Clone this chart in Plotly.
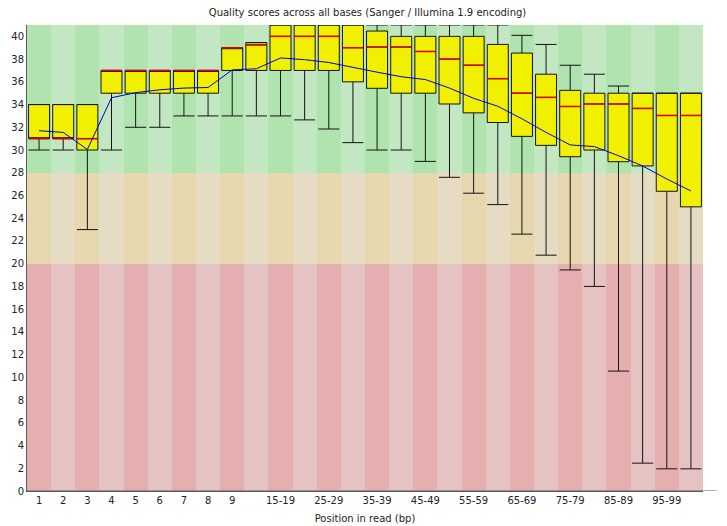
import plotly.graph_objects as go

categories = ["1", "2", "3", "4", "5", "6", "7", "8", "9",
              "10-14", "15-19", "20-24", "25-29", "30-34", "35-39", "40-44",
              "45-49", "50-54", "55-59", "60-64", "65-69", "70-74", "75-79",
              "80-84", "85-89", "90-94", "95-99", "100-101"]
tick_labels = ["1", "2", "3", "4", "5", "6", "7", "8", "9",
               "", "15-19", "", "25-29", "", "35-39", "", "45-49", "", "55-59",
               "", "65-69", "", "75-79", "", "85-89", "", "95-99", ""]

lower_whisker = [30, 30, 23, 30, 32, 32, 33, 33, 33, 33, 33, 32.65, 31.85, 30.65,
                 30, 30, 29, 27.6, 26.2, 25.2, 22.6, 20.75, 19.45, 18.0, 10.55,
                 2.45, 1.95, 1.95]
q1 = [31, 31, 30, 35, 35, 35, 35, 35, 37, 37, 37, 37, 37, 36,
      35.43, 35, 35, 34.05, 33.27, 32.42, 31.2, 30.41, 29.41, 30, 28.97,
      28.6, 26.37, 25.0]
median = [31, 31, 31, 37, 37, 37, 37, 37, 39, 39.25, 40, 40, 40, 39,
          39.06, 39.06, 38.67, 38.0, 37.46, 36.28, 35.0, 34.63, 33.83, 34.05,
          34.05, 33.66, 33.04, 33.04]
q3 = [34, 34, 34, 37, 37, 37, 37, 37, 39, 39.45, 41, 41, 41, 41,
      40.47, 40, 40, 40, 40, 39.29, 38.53, 36.67, 35.25, 35, 35, 35, 35, 35]
upper_whisker = [34, 34, 34, 37, 37, 37, 37, 37, 39, 39.45, 41, 41, 41, 41,
                 41, 41, 41, 41, 41, 41, 40.09, 39.29, 37.46, 36.67, 35.63,
                 35, 35, 35]
mean = [31.7, 31.55, 30.05, 34.6, 35.05, 35.3, 35.45, 35.5, 37.05, 37.15,
        38.1, 37.95, 37.7, 37.25, 36.85, 36.45, 36.2, 35.45, 34.55, 33.85,
        32.75, 31.55, 30.45, 30.3, 29.5, 28.6, 27.45, 26.4]

zones = [(0, 20, "rgb(230,175,175)", "rgb(230,195,195)"),
         (20, 28, "rgb(230,215,175)", "rgb(230,220,195)"),
         (28, 41, "rgb(175,228,175)", "rgb(195,230,195)")]

n = len(categories)
idx = list(range(n))

fig = go.Figure()

for lo, hi, dark, light in zones:
    fig.add_trace(go.Bar(
        x=idx, y=[hi - lo] * n, base=[lo] * n, width=1.0,
        marker=dict(color=[dark if i % 2 == 0 else light for i in idx],
                    line=dict(width=0)),
        hoverinfo="skip", showlegend=False))

fig.add_trace(go.Box(
    x=idx, q1=q1, median=median, q3=q3,
    lowerfence=lower_whisker, upperfence=upper_whisker,
    width=0.87, whiskerwidth=1.0,
    fillcolor="rgb(240,240,0)",
    line=dict(color="rgb(20,20,20)", width=1),
    showlegend=False))

half = 0.435
mx, my = [], []
for i, m in zip(idx, median):
    mx += [i - half, i + half, None]
    my += [m, m, None]
fig.add_trace(go.Scatter(x=mx, y=my, mode="lines",
                         line=dict(color="rgb(220,0,0)", width=1.5),
                         hoverinfo="skip", showlegend=False))

fig.add_trace(go.Scatter(x=idx, y=mean, mode="lines",
                         line=dict(color="rgb(0,0,210)", width=1),
                         hoverinfo="skip", showlegend=False))

font = dict(family="DejaVu Sans", size=10, color="#222")

# the page body adds an 8px offset; size and margins compensate for it
fig.update_layout(
    width=719, height=518,
    margin=dict(l=19, r=24, t=17, b=35),
    paper_bgcolor="white", plot_bgcolor="white",
    barmode="overlay", bargap=0,
    font=font,
    title=dict(text="Quality scores across all bases (Sanger / Illumina 1.9 encoding)",
               x=0.5, xanchor="center", y=1, yanchor="top",
               pad=dict(t=1), yref="container",
               font=dict(family="DejaVu Sans", size=10, color="#222")),
    xaxis=dict(range=[-0.5, n - 0.5], tickmode="array", tickvals=idx,
               ticktext=tick_labels, tickangle=0, showgrid=False, zeroline=False,
               showline=True, linecolor="rgb(90,90,90)", linewidth=1, ticks="",
               automargin=False,
               title=dict(text="Position in read (bp)", standoff=9,
                          font=dict(family="DejaVu Sans", size=10, color="#222"))),
    yaxis=dict(range=[0, 41], tickmode="linear", tick0=0, dtick=2,
               showgrid=False, zeroline=False, showline=True, automargin=False,
               linecolor="rgb(90,90,90)", linewidth=1, ticks=""),
)

fig.add_shape(type="line", xref="paper", yref="y", x0=0, x1=1.02, y0=0, y1=0,
              line=dict(color="rgb(90,90,90)", width=1))

fig.write_html("out.html")
